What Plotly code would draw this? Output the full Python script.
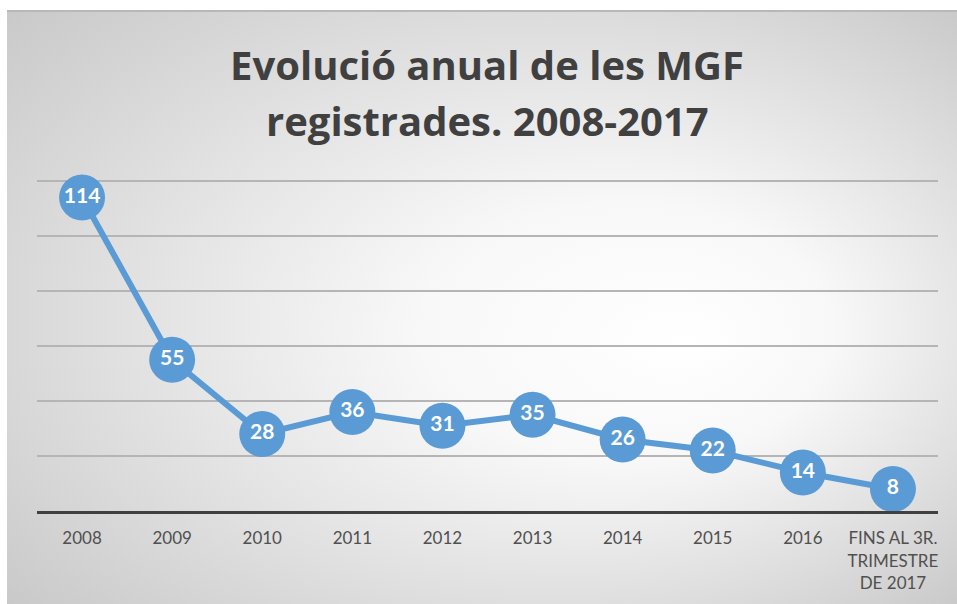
import base64
import plotly.graph_objects as go

categories = ["2008", "2009", "2010", "2011", "2012", "2013", "2014", "2015", "2016",
              "FINS AL 3R.<br>TRIMESTRE<br>DE 2017"]
values = [114, 55, 28, 36, 31, 35, 26, 22, 14, 8]
title_lines = ["Evolució anual de les MGF", "registrades. 2008-2017"]

W, H = 957, 604
L, R, T, B = 37, 19, 179, 93
pw, ph = W - L - R, H - T - B
ytop = ph / 2.75

def px_x(px):
    return (px - L) / pw

def px_y(py):
    return (H - B - py) / ph

svg = f"""<svg xmlns='http://www.w3.org/2000/svg' width='950' height='594' viewBox='0 0 950 594' preserveAspectRatio='none'>
<defs><radialGradient id='g' cx='0.5' cy='0.5' r='0.72' fx='0.72' fy='0.56'>
<stop offset='0' stop-color='#ffffff'/>
<stop offset='0.3' stop-color='#f8f8f8'/>
<stop offset='1' stop-color='#c8c8c8'/>
</radialGradient></defs>
<rect x='0' y='0' width='950' height='594' fill='url(#g)'/>
<rect x='0' y='0' width='950' height='2' fill='#b8b8b8'/>
</svg>"""
src = "data:image/svg+xml;base64," + base64.b64encode(svg.encode()).decode()

fig = go.Figure()
fig.add_trace(go.Scatter(
    x=categories, y=values, mode="lines+markers+text",
    text=[str(v) for v in values], textposition="middle center",
    textfont=dict(family="Lato", size=21, color="white", weight="bold"),
    line=dict(color="#5b9bd5", width=6),
    marker=dict(size=46, color="#5b9bd5"),
    cliponaxis=False, hoverinfo="skip",
))

fig.add_layout_image(dict(
    source=src, xref="paper", yref="paper",
    x=px_x(7), y=px_y(10), sizex=(957 - 7) / pw, sizey=(604 - 10) / ph,
    xanchor="left", yanchor="top", sizing="stretch", layer="below",
))

for line, py in zip(title_lines, [65, 120]):
    fig.add_annotation(text=f"<b>{line}</b>", xref="paper", yref="paper",
                       x=px_x(487), y=px_y(py), xanchor="center", yanchor="middle",
                       showarrow=False,
                       font=dict(family="Open Sans", size=40, color="#404040"))

fig.update_layout(
    width=W, height=H,
    margin=dict(l=L, r=R, t=T, b=B),
    paper_bgcolor="white", plot_bgcolor="rgba(0,0,0,0)",
    showlegend=False,
    xaxis=dict(type="category", range=[-0.5, len(categories) - 0.5],
               showgrid=False, showline=True, linecolor="#404040",
               linewidth=3, ticks="", layer="above traces",
               tickfont=dict(family="Lato", size=17, color="#505050"),
               ticklabelstandoff=10, zeroline=False),
    yaxis=dict(range=[0, ytop], tick0=0, dtick=20, showgrid=True, gridcolor="#b5b5b5",
               gridwidth=1.5, showticklabels=False, zeroline=False, showline=False),
)

fig.write_html("out.html", config={"displayModeBar": False},
               post_script="document.body.style.margin='0';")
